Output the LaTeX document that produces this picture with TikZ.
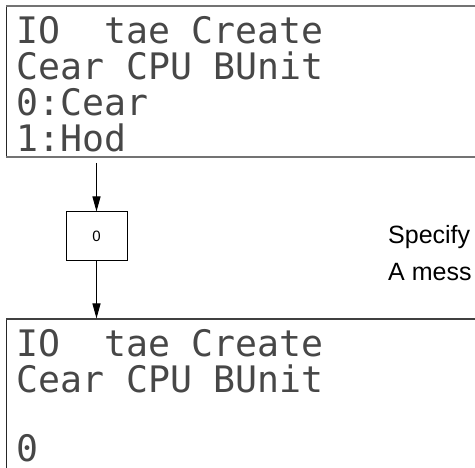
\documentclass[tikz,border=0pt]{standalone}
\usepackage{fontspec}
\setmainfont{Liberation Sans}
\newfontfamily\lcdfont{DejaVu Sans Mono}
\usetikzlibrary{arrows.meta}
\tikzset{
  lcdtext/.style={anchor=base west, inner sep=0pt, text=black!72, font=\lcdfont\fontsize{36.5}{36.5}\selectfont},
  note/.style={anchor=base west, inner sep=0pt, font=\fontsize{25}{25}\selectfont},
  stepbox/.style={draw, line width=1pt, minimum width=61pt, minimum height=49pt, inner sep=0pt, font=\fontsize{15}{15}\selectfont},
  flow/.style={line width=1pt, -{Triangle[length=15pt,width=8pt]}},
  framegray/.style={draw=black!55, line width=2pt},
  framedark/.style={draw=black!85, line width=1.3pt}
}
\begin{document}
\begin{tikzpicture}[x=1pt,y=-1pt]
\useasboundingbox (0,0) rectangle (475,468);
% top display frame
\draw[framedark] (6.5,6) -- (6.5,157);
\draw[framegray] (6,6) -- (475,6);
\draw[framegray] (6,157) -- (475,157);
\node[lcdtext] (t1) at (16,44) {IO~~tae Create};
\node[lcdtext] (t2) at (16,80) {Cear CPU BUnit};
\node[lcdtext] (t3) at (16,116) {0:Cear};
\node[lcdtext] (t4) at (16,152) {1:Hod};
% bottom display frame
\draw[framedark] (6.5,319) -- (6.5,468);
\draw[draw=black!75, line width=1.5pt] (6,319) -- (475,319);
\node[lcdtext] (b1) at (16,357) {IO~~tae Create};
\node[lcdtext] (b2) at (16,393) {Cear CPU BUnit};
\node[lcdtext] (b4) at (16,462) {0};
% flow
\coordinate (top) at (96.5,163);
\coordinate (bot) at (96.5,318.5);
\node[stepbox] (sel) at (96.5,236.5) {0};
\draw[flow] (top) -- (sel.north);
\draw[flow] (sel.south) -- (bot);
% notes
\node[note] (n1) at (388,244) {Specify};
\node[note] (n2) at (388,281) {A mess};
\end{tikzpicture}
\end{document}
